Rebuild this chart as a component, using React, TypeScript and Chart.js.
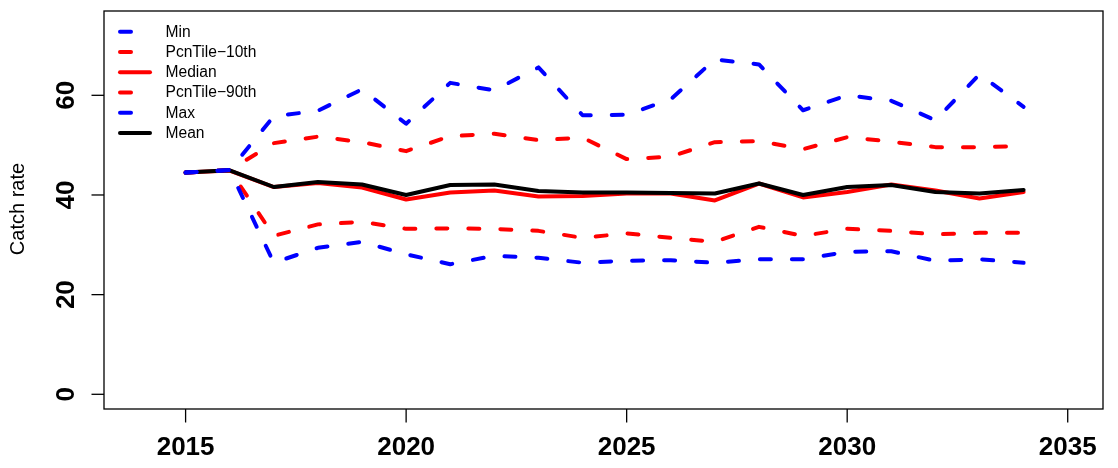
import React, { useEffect, useRef } from "react";
import { Chart, registerables } from "chart.js";

Chart.register(...registerables);

const years = [2015, 2016, 2017, 2018, 2019, 2020, 2021, 2022, 2023, 2024, 2025, 2026, 2027, 2028, 2029, 2030, 2031, 2032, 2033, 2034];
const minVals = [44.5, 45.0, 26.4, 29.4, 30.6, 28.1, 26.1, 27.8, 27.4, 26.4, 26.8, 26.9, 26.4, 27.1, 27.1, 28.6, 28.7, 26.8, 27.1, 26.4];
const p10Vals = [44.5, 45.0, 31.8, 34.1, 34.6, 33.2, 33.3, 33.2, 32.8, 31.4, 32.3, 31.4, 30.6, 33.6, 31.8, 33.2, 32.8, 32.1, 32.4, 32.4];
const medianVals = [44.5, 44.9, 41.6, 42.4, 41.5, 39.1, 40.5, 40.9, 39.7, 39.8, 40.3, 40.3, 38.9, 42.3, 39.5, 40.6, 42.1, 40.9, 39.3, 40.6];
const p90Vals = [44.5, 45.0, 50.4, 51.7, 50.6, 48.8, 51.8, 52.3, 51.0, 51.5, 47.2, 47.7, 50.6, 50.8, 49.2, 51.6, 50.7, 49.6, 49.6, 49.8];
const maxVals = [44.5, 45.0, 55.8, 56.9, 61.2, 54.3, 62.5, 61.0, 65.6, 56.0, 56.1, 59.2, 67.2, 66.2, 57.0, 60.0, 58.9, 55.0, 64.2, 57.7];
const meanVals = [44.5, 44.95, 41.6, 42.6, 42.1, 40.0, 42.0, 42.1, 40.8, 40.5, 40.5, 40.4, 40.3, 42.3, 40.0, 41.6, 42.0, 40.6, 40.3, 41.0];

const xTicks = [2015, 2020, 2025, 2030, 2035];
const yTicks = [0, 20, 40, 60];
const yTitle = "Catch rate";

const BLUE = "#0000FF";
const RED = "#FF0000";
const BLACK = "#000000";
const DASH = [11, 21];
const FONT = '"Liberation Sans", Arial, Helvetica, sans-serif';

const seriesDefs = [
  { label: "Min", data: minVals, color: BLUE, dash: DASH, order: 0 },
  { label: "PcnTile-10th", data: p10Vals, color: RED, dash: DASH, order: 3 },
  { label: "Median", data: medianVals, color: RED, dash: [] as number[], order: 2 },
  { label: "PcnTile-90th", data: p90Vals, color: RED, dash: DASH, order: 3 },
  { label: "Max", data: maxVals, color: BLUE, dash: DASH, order: 0 },
  { label: "Mean", data: meanVals, color: BLACK, dash: [] as number[], order: 1 },
];

const rAxesPlugin = {
  id: "rAxes",
  afterDraw(chart: any) {
    const ctx = chart.ctx as CanvasRenderingContext2D;
    const { left, right, top, bottom } = chart.chartArea;
    const xs = chart.scales.x;
    const ys = chart.scales.y;
    ctx.save();
    // box
    ctx.strokeStyle = "#000";
    ctx.lineWidth = 1.3;
    ctx.strokeRect(left, top, right - left, bottom - top);
    // x ticks
    ctx.fillStyle = "#000";
    ctx.font = `bold 26px ${FONT}`;
    ctx.textAlign = "center";
    ctx.textBaseline = "alphabetic";
    xTicks.forEach((t) => {
      const px = xs.getPixelForValue(t);
      ctx.beginPath();
      ctx.moveTo(px, bottom);
      ctx.lineTo(px, bottom + 13.5);
      ctx.stroke();
      ctx.fillText(String(t), px, 455);
    });
    // y ticks
    yTicks.forEach((t) => {
      const py = ys.getPixelForValue(t);
      ctx.beginPath();
      ctx.moveTo(left, py);
      ctx.lineTo(left - 12.5, py);
      ctx.stroke();
      ctx.save();
      ctx.translate(74, py);
      ctx.rotate(-Math.PI / 2);
      ctx.textAlign = "center";
      ctx.textBaseline = "alphabetic";
      ctx.fillText(String(t), 0, 0);
      ctx.restore();
    });
    // y title
    ctx.save();
    ctx.font = `20px ${FONT}`;
    ctx.translate(23.5, (top + bottom) / 2 - 1);
    ctx.rotate(-Math.PI / 2);
    ctx.textAlign = "center";
    ctx.textBaseline = "alphabetic";
    ctx.fillText(yTitle, 0, 0);
    ctx.restore();
    // legend
    const x0 = 120;
    const x1 = 150;
    const tx = 165.5;
    let ly = 31.8;
    ctx.font = `15.6px ${FONT}`;
    ctx.textAlign = "left";
    ctx.textBaseline = "middle";
    seriesDefs.forEach((s) => {
      ctx.save();
      ctx.strokeStyle = s.color;
      ctx.lineWidth = 4;
      ctx.lineCap = "round";
      ctx.setLineDash(s.dash);
      ctx.beginPath();
      ctx.moveTo(x0, ly);
      ctx.lineTo(x1, ly);
      ctx.stroke();
      ctx.restore();
      ctx.fillStyle = "#000";
      ctx.fillText(s.label.replace("-", "\u2212"), tx, ly + 0.5);
      ly += 20.25;
    });
    ctx.restore();
  },
};

export default function App() {
  const ref = useRef<HTMLCanvasElement | null>(null);
  useEffect(() => {
    if (!ref.current) return;
    const chart = new Chart(ref.current, {
      type: "line",
      data: {
        datasets: seriesDefs.map((s) => ({
          label: s.label,
          data: years.map((y, i) => ({ x: y, y: s.data[i] })),
          borderColor: s.color,
          backgroundColor: s.color,
          borderWidth: 4,
          borderDash: s.dash,
          borderCapStyle: "round" as const,
          borderJoinStyle: "round" as const,
          pointRadius: 0,
          pointHoverRadius: 0,
          tension: 0,
          fill: false,
          order: s.order,
        })),
      },
      options: {
        animation: false,
        responsive: false,
        devicePixelRatio: 1,
        layout: { padding: { left: 104, top: 11, right: 15, bottom: 59 } },
        plugins: { legend: { display: false }, tooltip: { enabled: false } },
        events: [],
        scales: {
          x: { type: "linear", min: 2013.15, max: 2035.8, display: false },
          y: { type: "linear", min: -2.95, max: 76.92, display: false },
        },
      },
      plugins: [rAxesPlugin],
    });
    return () => chart.destroy();
  }, []);
  return (
    <div style={{ position: "fixed", left: 0, top: 0, width: 1118, height: 468, background: "#fff" }}>
      <canvas ref={ref} width={1118} height={468} style={{ display: "block" }} />
    </div>
  );
}
